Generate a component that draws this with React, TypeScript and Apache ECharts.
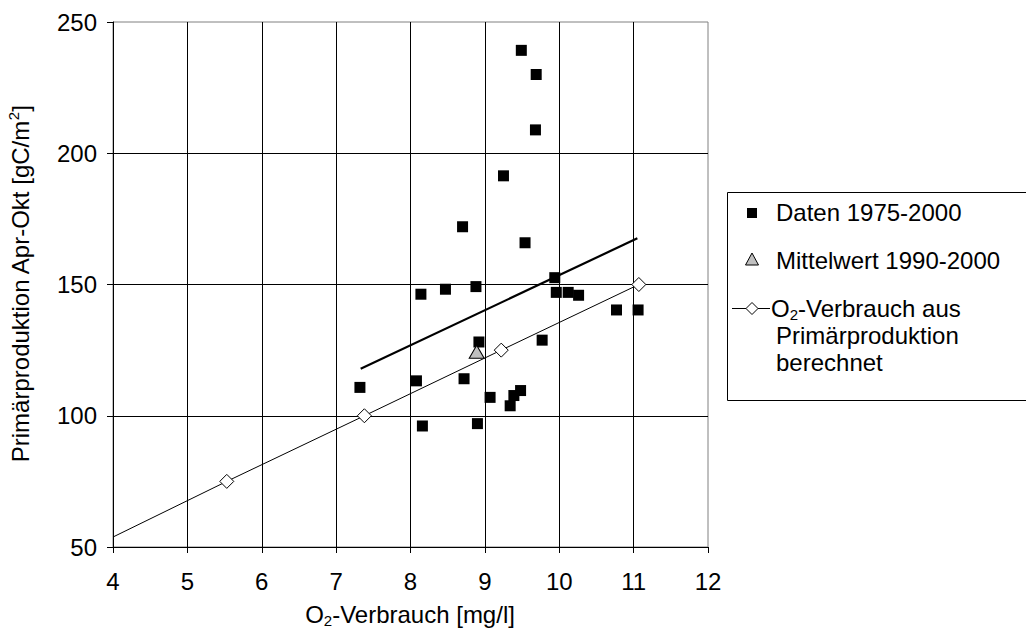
import React, { useEffect, useRef } from "react";
import * as echarts from "echarts";

// Daten 1975-2000: O2-Verbrauch [mg/l] vs Primärproduktion [gC/m2]
const dataO2 = [9.49, 9.69, 9.68, 9.25, 8.7, 9.54, 9.94, 8.14, 8.47, 8.88, 9.96, 10.12, 10.26, 10.77, 11.06, 8.92, 9.77, 8.08, 8.72, 9.07, 9.48, 9.39, 9.34, 8.16, 8.9, 7.32];
const dataPP = [239.2, 230.0, 208.9, 191.4, 172.0, 165.9, 152.6, 146.3, 148.2, 149.2, 147.0, 147.0, 145.9, 140.3, 140.3, 128.1, 128.8, 113.3, 114.1, 107.0, 109.6, 107.7, 103.8, 96.1, 97.0, 110.8];

// Mittelwert 1990-2000
const meanO2 = [8.89];
const meanPP = [124.4];

// O2-Verbrauch aus Primärproduktion berechnet
const calcO2 = [4.0, 5.53, 7.38, 9.22, 11.07];
const calcPP = [53.8, 75, 100, 125, 150];

// Trendlinie der Daten
const trendO2 = [7.33, 11.05];
const trendPP = [117.9, 167.6];

const xTicks = { min: 4, max: 12, interval: 1 };
const yTicks = { min: 50, max: 250, interval: 50 };

const FONT = "'Liberation Sans', Arial, sans-serif";

export default function App() {
  const ref = useRef<HTMLDivElement>(null);
  useEffect(() => {
    if (!ref.current) return;
    const chart = echarts.init(ref.current, undefined, { renderer: "svg" });
    const rich = {
      n: { fontSize: 24, fontFamily: FONT, color: "#000", lineHeight: 28 },
      s: { fontSize: 15, fontFamily: FONT, color: "#000", lineHeight: 14, verticalAlign: "bottom" },
      p: { fontSize: 15, fontFamily: FONT, color: "#000", lineHeight: 14, verticalAlign: "top" },
    };
    const txt = (x: number, y: number, text: string, extra: any = {}) => ({
      type: "text",
      x,
      y,
      z: 100,
      style: { text, fontSize: 24, fontFamily: FONT, fill: "#000", verticalAlign: "middle", rich, ...extra },
    });
    chart.setOption({
      animation: false,
      backgroundColor: "#fff",
      grid: {
        left: 113,
        top: 22,
        right: 318,
        bottom: 88,
        show: true,
        borderColor: "#808080",
        borderWidth: 1,
        containLabel: false,
      },
      xAxis: {
        type: "value",
        ...xTicks,
        axisLine: { show: true, onZero: false, lineStyle: { color: "#000", width: 1 } },
        axisTick: { show: true, length: 6, lineStyle: { color: "#000" } },
        axisLabel: { fontSize: 24, fontFamily: FONT, color: "#000", margin: 22 },
        splitLine: { show: true, showMaxLine: false, showMinLine: false, lineStyle: { color: "#000", width: 1 } },
      },
      yAxis: {
        type: "value",
        ...yTicks,
        axisLine: { show: true, onZero: false, lineStyle: { color: "#000", width: 1 } },
        axisTick: { show: true, length: 6, lineStyle: { color: "#000" } },
        axisLabel: { fontSize: 24, fontFamily: FONT, color: "#000", margin: 16 },
        splitLine: { show: true, showMaxLine: false, showMinLine: false, lineStyle: { color: "#000", width: 1 } },
      },
      series: [
        {
          name: "O2-Verbrauch aus Primärproduktion berechnet",
          type: "line",
          data: calcO2.map((x, i) => (i === 0 ? { value: [x, calcPP[i]], symbol: "none" } : [x, calcPP[i]])),
          symbol: "diamond",
          symbolSize: 14,
          showAllSymbol: true,
          lineStyle: { color: "#000", width: 1 },
          itemStyle: { color: "#fff", borderColor: "#000", borderWidth: 1 },
          z: 3,
        },
        {
          name: "Trend",
          type: "line",
          data: trendO2.map((x, i) => [x, trendPP[i]]),
          symbol: "none",
          lineStyle: { color: "#000", width: 2.2 },
          z: 4,
        },
        {
          name: "Daten 1975-2000",
          type: "scatter",
          data: dataO2.map((x, i) => [x, dataPP[i]]),
          symbol: "rect",
          symbolSize: 11,
          itemStyle: { color: "#000", opacity: 1 },
          z: 5,
        },
        {
          name: "Mittelwert 1990-2000",
          type: "scatter",
          data: meanO2.map((x, i) => [x, meanPP[i]]),
          symbol: "triangle",
          symbolSize: [15, 13],
          itemStyle: { color: "#c0c0c0", borderColor: "#000", borderWidth: 1, opacity: 1 },
          z: 6,
        },
      ],
      graphic: [
        // axis titles
        txt(410, 614, "{n|O}{s|2}{n|-Verbrauch [mg/l]}", { align: "center" }),
        {
          type: "text",
          x: 20,
          y: 284,
          rotation: Math.PI / 2,
          z: 100,
          style: {
            text: "{n|Primärproduktion Apr-Okt [gC/m}{p|2}{n|]}",
            align: "center",
            verticalAlign: "middle",
            fontSize: 24,
            fontFamily: FONT,
            fill: "#000",
            rich,
          },
        },
        // legend
        {
          type: "rect",
          z: 90,
          shape: { x: 727.5, y: 192.5, width: 330, height: 208 },
          style: { fill: "#fff", stroke: "#000", lineWidth: 1 },
        },
        { type: "rect", z: 100, shape: { x: 747, y: 208, width: 10, height: 10 }, style: { fill: "#000" } },
        {
          type: "polygon",
          z: 100,
          shape: { points: [[752, 253], [745.5, 265], [758.5, 265]] },
          style: { fill: "#c0c0c0", stroke: "#000", lineWidth: 1 },
        },
        { type: "line", z: 100, shape: { x1: 732, y1: 308.5, x2: 770, y2: 308.5 }, style: { stroke: "#000", lineWidth: 1 } },
        {
          type: "polygon",
          z: 101,
          shape: { points: [[752, 302.5], [758, 308.5], [752, 314.5], [746, 308.5]] },
          style: { fill: "#fff", stroke: "#000", lineWidth: 1 },
        },
        txt(776, 212, "Daten 1975-2000"),
        txt(776, 260, "Mittelwert 1990-2000"),
        txt(771, 308, "{n|O}{s|2}{n|-Verbrauch aus}"),
        txt(776, 335, "Primärproduktion"),
        txt(776, 362, "berechnet"),
      ],
    });
    return () => chart.dispose();
  }, []);
  return <div ref={ref} style={{ position: "fixed", left: 0, top: 0, width: 1026, height: 635 }} />;
}
